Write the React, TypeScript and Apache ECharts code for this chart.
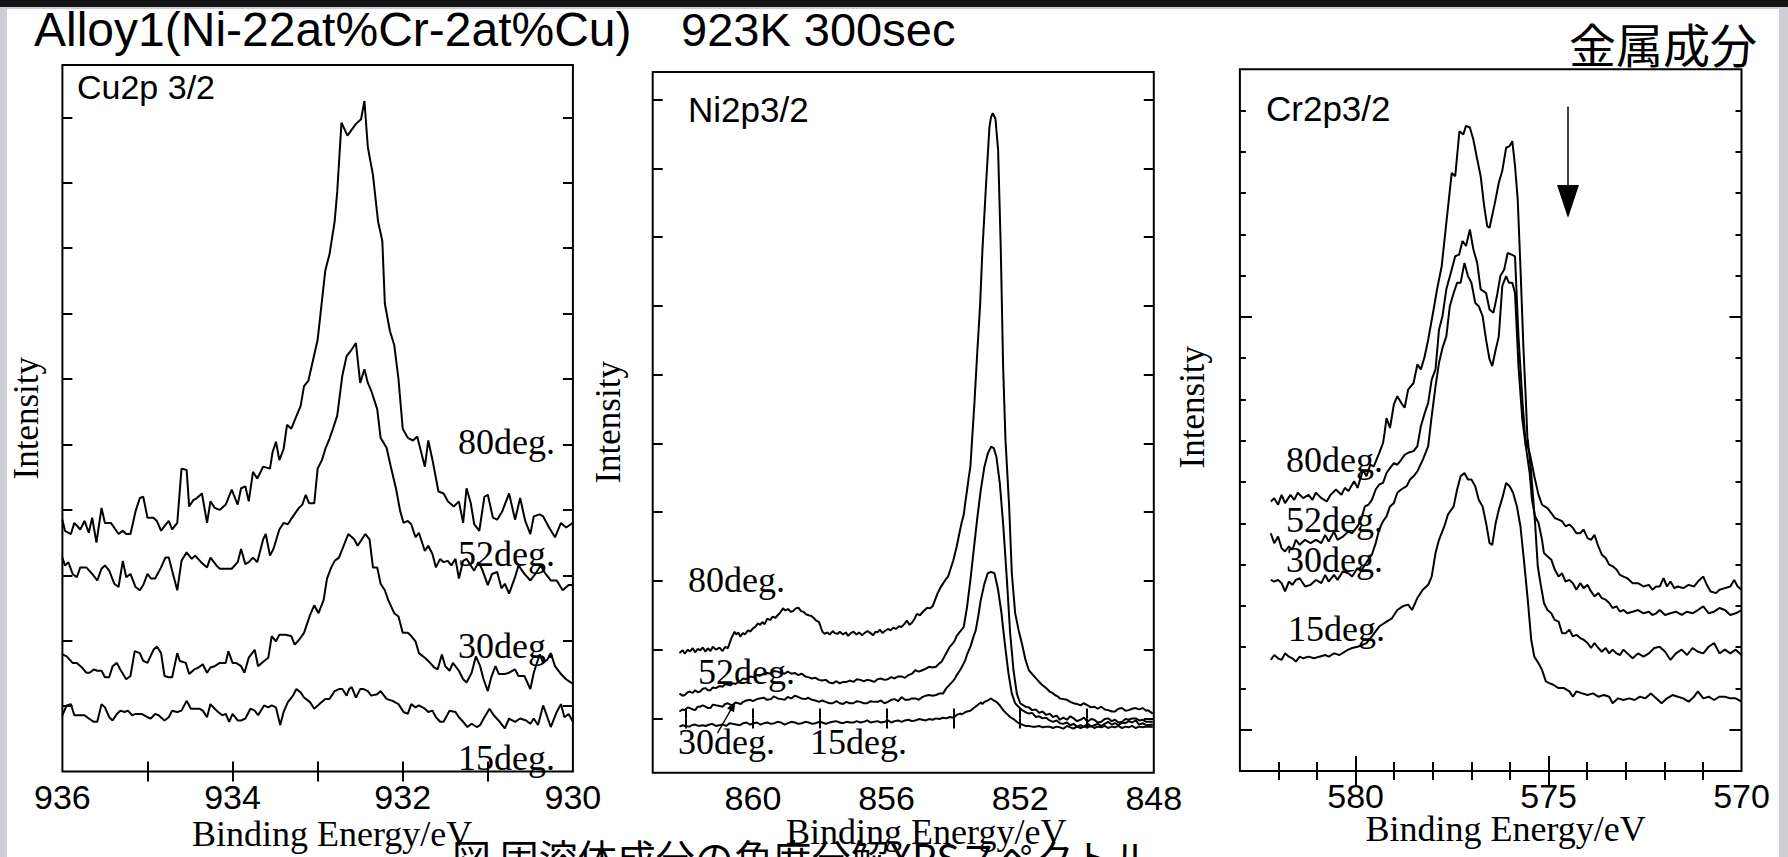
import React, { useEffect, useRef } from "react";
import * as echarts from "echarts";

// ---------- tick / label values ----------
const cuXLabels = [936, 934, 932, 930];
const cuXTicks = [935, 934, 933, 932, 931];
const cuYTicks = [1, 2, 3, 4, 5, 6, 7, 8, 9, 10];
const niXLabels = [860, 856, 852, 848];
const niXTicks = [862, 860, 858, 856, 854, 852, 850];
const niYTicks = [0, 1, 2, 3, 4, 5, 6, 7, 8, 9];
const crXLabels = [580, 575, 570];
const crXMinorTicks = [582, 581, 579, 578, 577, 576, 574, 573, 572, 571];
const crXMajorTicks = [580, 575];
const crYMinorTicks = [2, 3, 4, 5, 6, 7, 8, 9, 10, 12, 13, 14, 15, 16];
const crYMajorTicks = [1, 11];
const degreeNames = ["80deg.", "52deg.", "30deg.", "15deg."];

// ---------- Cu2p 3/2 spectra [binding energy eV, intensity] ----------
const cu80: number[][] = [[936.00,3.85],[935.97,3.68],[935.90,3.63],[935.86,3.80],[935.79,3.70],[935.74,3.83],[935.69,3.65],[935.65,3.88],[935.60,3.50],[935.54,4.03],[935.50,3.80],[935.43,3.80],[935.34,3.63],[935.29,3.68],[935.25,3.63],[935.20,3.63],[935.14,3.98],[935.09,4.18],[935.05,4.20],[935.00,3.88],[934.93,3.88],[934.89,3.83],[934.84,3.68],[934.80,3.75],[934.75,3.83],[934.71,3.70],[934.65,3.80],[934.60,4.63],[934.54,4.61],[934.51,4.05],[934.46,4.15],[934.42,4.18],[934.36,4.25],[934.30,3.80],[934.26,4.13],[934.21,4.03],[934.15,4.00],[934.08,4.08],[934.01,4.31],[933.94,4.08],[933.90,4.33],[933.85,4.36],[933.81,4.13],[933.76,4.58],[933.71,4.48],[933.64,4.66],[933.56,4.63],[933.53,4.88],[933.49,5.04],[933.45,4.76],[933.40,4.93],[933.36,5.30],[933.31,5.24],[933.20,5.59],[933.16,5.89],[933.11,5.97],[933.00,6.60],[932.91,7.66],[932.86,7.91],[932.80,8.41],[932.77,8.86],[932.72,9.92],[932.65,9.72],[932.55,9.90],[932.49,9.97],[932.45,10.25],[932.41,9.54],[932.35,9.12],[932.29,8.41],[932.24,8.11],[932.21,7.15],[932.15,6.73],[932.10,6.52],[932.05,6.00],[932.00,5.24],[931.94,5.10],[931.88,5.06],[931.83,5.12],[931.74,4.66],[931.70,5.06],[931.65,4.76],[931.58,4.28],[931.52,4.25],[931.47,4.13],[931.40,4.05],[931.34,4.13],[931.29,3.80],[931.25,4.33],[931.20,4.10],[931.16,3.78],[931.10,3.68],[931.04,4.20],[931.00,4.23],[930.94,3.88],[930.89,3.85],[930.83,3.98],[930.75,4.25],[930.68,3.85],[930.62,4.18],[930.56,3.83],[930.50,3.63],[930.46,3.90],[930.39,3.93],[930.35,3.90],[930.28,3.73],[930.21,3.58],[930.14,3.80],[930.08,3.73],[930.00,3.80]];
const cu52: number[][] = [[936.00,3.27],[935.97,3.15],[935.93,3.20],[935.88,3.02],[935.83,2.97],[935.79,3.12],[935.72,3.12],[935.65,3.02],[935.59,2.92],[935.54,3.10],[935.50,3.15],[935.45,3.07],[935.39,2.87],[935.34,2.82],[935.29,3.22],[935.25,2.97],[935.20,3.02],[935.14,2.82],[935.09,2.77],[935.05,2.85],[935.00,3.02],[934.96,2.95],[934.91,2.95],[934.84,3.12],[934.79,3.27],[934.75,3.27],[934.71,3.07],[934.65,2.77],[934.60,3.22],[934.54,3.35],[934.48,3.25],[934.44,3.30],[934.37,3.20],[934.30,3.12],[934.26,3.27],[934.19,3.15],[934.15,3.10],[934.08,3.10],[934.01,3.10],[933.94,3.20],[933.90,3.40],[933.85,3.17],[933.81,3.20],[933.76,3.27],[933.71,3.20],[933.64,3.55],[933.61,3.63],[933.56,3.30],[933.52,3.40],[933.45,3.70],[933.40,3.80],[933.35,3.78],[933.29,3.90],[933.22,4.03],[933.18,4.08],[933.14,4.23],[933.10,4.10],[933.04,4.10],[933.00,4.63],[932.95,4.76],[932.91,4.93],[932.86,5.09],[932.82,5.24],[932.77,5.44],[932.71,6.05],[932.66,6.35],[932.60,6.45],[932.55,6.55],[932.50,5.94],[932.45,6.15],[932.41,5.94],[932.37,5.82],[932.30,5.54],[932.26,5.10],[932.19,4.95],[932.14,4.66],[932.08,4.33],[932.03,3.98],[931.99,3.80],[931.94,3.83],[931.90,3.78],[931.85,3.58],[931.81,3.65],[931.74,3.37],[931.70,3.45],[931.65,3.32],[931.61,3.12],[931.56,3.25],[931.52,3.20],[931.47,3.22],[931.43,3.15],[931.38,3.25],[931.34,2.95],[931.29,3.22],[931.25,3.25],[931.20,3.15],[931.16,3.07],[931.11,3.20],[931.07,3.10],[931.00,2.85],[930.95,3.02],[930.89,3.05],[930.84,2.80],[930.80,2.87],[930.75,2.72],[930.68,2.97],[930.64,3.15],[930.57,3.02],[930.50,2.92],[930.44,3.02],[930.38,3.15],[930.32,3.02],[930.26,2.92],[930.19,2.92],[930.12,2.77],[930.05,2.85],[930.00,2.85]];
const cu30: number[][] = [[936.00,1.79],[935.95,1.76],[935.88,1.66],[935.83,1.66],[935.77,1.59],[935.72,1.51],[935.68,1.51],[935.63,1.56],[935.59,1.54],[935.54,1.54],[935.50,1.44],[935.45,1.44],[935.41,1.61],[935.36,1.66],[935.32,1.56],[935.25,1.41],[935.20,1.46],[935.15,1.84],[935.09,1.81],[935.05,1.69],[935.00,1.66],[934.93,1.86],[934.89,1.91],[934.84,1.81],[934.80,1.46],[934.75,1.44],[934.71,1.44],[934.65,1.81],[934.62,1.69],[934.55,1.66],[934.51,1.49],[934.45,1.56],[934.40,1.59],[934.35,1.64],[934.30,1.51],[934.26,1.59],[934.21,1.61],[934.15,1.66],[934.08,1.66],[934.05,1.84],[934.00,1.66],[933.96,1.66],[933.90,1.61],[933.86,1.51],[933.81,1.74],[933.74,1.86],[933.70,1.61],[933.63,1.69],[933.58,1.74],[933.54,2.07],[933.49,1.99],[933.45,2.09],[933.38,2.09],[933.31,2.07],[933.27,1.94],[933.22,2.01],[933.16,2.12],[933.09,2.39],[933.04,2.54],[932.99,2.42],[932.93,2.62],[932.89,2.95],[932.84,3.12],[932.80,3.22],[932.75,3.27],[932.71,3.40],[932.64,3.63],[932.57,3.55],[932.53,3.45],[932.48,3.55],[932.44,3.63],[932.39,3.55],[932.35,3.12],[932.30,3.12],[932.26,2.87],[932.21,2.77],[932.17,2.62],[932.10,2.42],[932.05,2.37],[932.00,2.12],[931.94,2.12],[931.90,2.07],[931.85,1.99],[931.81,1.81],[931.74,1.74],[931.70,1.69],[931.63,1.59],[931.59,1.56],[931.54,1.79],[931.50,1.61],[931.45,1.54],[931.41,1.66],[931.34,1.54],[931.29,1.41],[931.25,1.36],[931.19,1.51],[931.14,1.76],[931.09,1.61],[931.05,1.41],[931.00,1.23],[930.96,1.44],[930.91,1.61],[930.87,1.49],[930.80,1.49],[930.75,1.51],[930.68,1.56],[930.64,1.46],[930.57,1.46],[930.50,1.26],[930.46,1.51],[930.39,1.79],[930.35,1.66],[930.30,1.71],[930.26,1.81],[930.21,1.61],[930.14,1.49],[930.08,1.41],[930.00,1.34]];
const cu15: number[][] = [[936.00,0.86],[935.95,1.01],[935.90,1.03],[935.86,0.86],[935.79,0.86],[935.74,0.86],[935.69,0.81],[935.63,0.76],[935.59,0.76],[935.54,1.03],[935.50,0.98],[935.45,0.83],[935.41,0.78],[935.36,0.88],[935.32,0.93],[935.27,0.91],[935.23,0.93],[935.18,0.86],[935.14,0.88],[935.07,0.88],[935.00,0.83],[934.96,0.81],[934.91,0.88],[934.87,0.86],[934.80,0.78],[934.75,0.83],[934.71,0.93],[934.65,0.91],[934.60,0.93],[934.54,1.08],[934.49,0.96],[934.44,0.96],[934.39,0.96],[934.35,0.93],[934.30,0.83],[934.26,1.03],[934.21,0.96],[934.17,0.91],[934.12,0.86],[934.08,0.88],[934.04,0.76],[934.00,0.88],[933.94,0.78],[933.90,0.78],[933.85,0.81],[933.79,0.96],[933.74,0.93],[933.70,0.86],[933.63,1.01],[933.58,0.98],[933.54,1.01],[933.49,0.98],[933.44,0.71],[933.40,0.91],[933.35,1.06],[933.29,1.16],[933.25,1.26],[933.20,1.21],[933.16,1.13],[933.09,1.06],[933.04,0.96],[932.98,1.03],[932.91,1.11],[932.86,1.11],[932.80,1.23],[932.75,1.26],[932.71,1.26],[932.66,1.16],[932.63,1.26],[932.60,1.29],[932.55,1.13],[932.50,1.26],[932.46,1.26],[932.41,1.23],[932.37,1.16],[932.30,1.18],[932.26,1.23],[932.19,1.11],[932.12,1.08],[932.05,1.03],[931.99,0.91],[931.94,0.88],[931.90,1.03],[931.85,0.98],[931.81,1.01],[931.74,0.96],[931.70,0.91],[931.65,0.93],[931.61,0.83],[931.56,0.76],[931.52,0.76],[931.45,0.93],[931.38,0.91],[931.34,0.83],[931.29,0.76],[931.24,0.68],[931.19,0.73],[931.13,0.68],[931.09,0.71],[931.04,0.83],[930.98,0.96],[930.93,0.86],[930.86,0.76],[930.80,0.66],[930.75,0.81],[930.68,0.76],[930.62,0.81],[930.55,0.78],[930.50,0.73],[930.46,0.81],[930.41,0.71],[930.35,1.01],[930.30,0.83],[930.26,0.68],[930.19,0.91],[930.14,1.03],[930.10,0.83],[930.05,0.88],[930.00,0.76]];

// ---------- Ni2p3/2 spectra ----------
const ni80: number[][] = [[862.20,0.95],[862.10,0.99],[862.04,0.94],[861.95,1.00],[861.89,0.97],[861.80,1.02],[861.73,0.96],[861.65,1.01],[861.58,0.99],[861.50,1.03],[861.42,0.97],[861.35,1.02],[861.27,0.98],[861.20,1.04],[861.11,1.00],[861.00,1.03],[860.91,0.98],[860.83,1.04],[860.75,1.02],[860.65,1.16],[860.55,1.26],[860.50,1.22],[860.44,1.25],[860.38,1.19],[860.30,1.24],[860.24,1.22],[860.15,1.28],[860.08,1.26],[860.00,1.31],[859.93,1.33],[859.85,1.38],[859.78,1.36],[859.72,1.40],[859.65,1.37],[859.57,1.45],[859.48,1.43],[859.41,1.48],[859.33,1.46],[859.26,1.50],[859.18,1.54],[859.10,1.60],[859.03,1.57],[858.95,1.59],[858.87,1.55],[858.80,1.56],[858.72,1.60],[858.64,1.61],[858.56,1.56],[858.49,1.55],[858.40,1.51],[858.33,1.50],[858.25,1.49],[858.18,1.46],[858.10,1.42],[858.02,1.40],[857.95,1.30],[857.92,1.26],[857.85,1.23],[857.77,1.25],[857.70,1.22],[857.61,1.27],[857.55,1.24],[857.46,1.23],[857.40,1.26],[857.30,1.22],[857.22,1.25],[857.15,1.20],[857.07,1.24],[856.99,1.26],[856.90,1.22],[856.82,1.25],[856.73,1.21],[856.66,1.24],[856.57,1.27],[856.48,1.24],[856.40,1.21],[856.33,1.26],[856.27,1.25],[856.20,1.29],[856.12,1.24],[856.05,1.27],[855.96,1.30],[855.88,1.28],[855.80,1.32],[855.72,1.30],[855.63,1.34],[855.55,1.33],[855.47,1.37],[855.39,1.42],[855.31,1.36],[855.24,1.39],[855.16,1.45],[855.09,1.52],[855.00,1.50],[854.93,1.54],[854.85,1.58],[854.78,1.61],[854.70,1.60],[854.62,1.63],[854.55,1.72],[854.47,1.82],[854.39,1.90],[854.31,1.96],[854.23,2.02],[854.16,2.06],[854.08,2.18],[854.00,2.30],[853.95,2.40],[853.90,2.50],[853.85,2.62],[853.80,2.74],[853.75,2.85],[853.69,2.96],[853.64,3.15],[853.59,3.32],[853.54,3.50],[853.49,3.66],[853.44,4.05],[853.37,4.58],[853.28,5.36],[853.20,6.01],[853.13,6.81],[853.02,7.78],[852.92,8.60],[852.87,8.75],[852.82,8.80],[852.74,8.72],[852.66,8.26],[852.58,6.81],[852.51,5.11],[852.44,4.05],[852.33,3.08],[852.25,2.11],[852.15,1.53],[852.05,1.29],[851.94,1.07],[851.84,0.85],[851.74,0.70],[851.58,0.61],[851.43,0.53],[851.35,0.49],[851.27,0.46],[851.20,0.43],[851.12,0.39],[851.03,0.37],[850.96,0.34],[850.88,0.32],[850.81,0.29],[850.70,0.28],[850.60,0.27],[850.50,0.24],[850.40,0.22],[850.30,0.21],[850.19,0.19],[850.10,0.22],[849.98,0.19],[849.88,0.16],[849.78,0.17],[849.68,0.14],[849.57,0.17],[849.47,0.13],[849.37,0.12],[849.26,0.10],[849.16,0.10],[849.06,0.14],[848.95,0.15],[848.85,0.11],[848.75,0.12],[848.65,0.14],[848.54,0.15],[848.44,0.13],[848.33,0.15],[848.23,0.11],[848.18,0.12],[848.03,0.07]];
const ni52: number[][] = [[862.20,0.36],[862.10,0.33],[862.04,0.34],[861.95,0.38],[861.89,0.39],[861.80,0.37],[861.73,0.41],[861.65,0.38],[861.58,0.39],[861.50,0.43],[861.42,0.44],[861.35,0.41],[861.27,0.41],[861.20,0.45],[861.11,0.44],[861.00,0.47],[860.91,0.46],[860.83,0.50],[860.75,0.49],[860.68,0.48],[860.60,0.51],[860.52,0.50],[860.44,0.53],[860.36,0.55],[860.29,0.58],[860.20,0.57],[860.08,0.61],[860.00,0.60],[859.88,0.63],[859.80,0.62],[859.67,0.65],[859.58,0.66],[859.46,0.65],[859.38,0.69],[859.26,0.68],[859.15,0.66],[859.05,0.65],[858.96,0.68],[858.85,0.65],[858.75,0.66],[858.64,0.63],[858.55,0.65],[858.43,0.61],[858.35,0.60],[858.23,0.58],[858.13,0.59],[858.02,0.56],[857.93,0.55],[857.82,0.56],[857.71,0.52],[857.61,0.51],[857.50,0.54],[857.40,0.51],[857.30,0.53],[857.20,0.53],[857.10,0.55],[856.99,0.53],[856.89,0.57],[856.79,0.56],[856.68,0.54],[856.58,0.56],[856.48,0.55],[856.37,0.53],[856.27,0.57],[856.17,0.58],[856.06,0.56],[855.96,0.57],[855.86,0.60],[855.76,0.58],[855.65,0.61],[855.55,0.61],[855.45,0.59],[855.34,0.63],[855.24,0.65],[855.14,0.70],[855.03,0.68],[854.93,0.70],[854.83,0.72],[854.73,0.75],[854.62,0.74],[854.52,0.75],[854.42,0.80],[854.36,0.82],[854.31,0.86],[854.21,0.95],[854.11,1.04],[854.00,1.10],[853.95,1.14],[853.90,1.20],[853.80,1.26],[853.69,1.33],[853.59,1.62],[853.49,2.01],[853.39,2.45],[853.28,2.93],[853.18,3.32],[853.07,3.66],[852.97,3.85],[852.87,3.95],[852.79,3.93],[852.71,3.80],[852.61,3.42],[852.51,2.83],[852.41,2.11],[852.30,1.24],[852.20,0.70],[852.10,0.36],[852.00,0.22],[851.94,0.20],[851.84,0.17],[851.74,0.16],[851.64,0.12],[851.53,0.13],[851.43,0.08],[851.33,0.10],[851.22,0.05],[851.12,0.07],[851.02,0.02],[850.91,0.04],[850.81,-0.02],[850.71,0.01],[850.60,-0.02],[850.50,0.03],[850.40,0.00],[850.30,-0.04],[850.19,-0.02],[850.09,0.01],[849.98,-0.05],[849.88,-0.01],[849.78,-0.02],[849.68,-0.06],[849.57,-0.05],[849.47,-0.01],[849.37,0.00],[849.26,-0.04],[849.16,-0.02],[849.06,-0.06],[848.95,-0.05],[848.85,-0.01],[848.75,-0.02],[848.65,0.00],[848.54,0.00],[848.44,-0.03],[848.33,-0.02],[848.23,-0.05],[848.03,-0.05]];
const ni30: number[][] = [[862.20,0.10],[862.10,0.13],[862.04,0.12],[861.95,0.16],[861.89,0.15],[861.80,0.13],[861.73,0.12],[861.65,0.17],[861.58,0.17],[861.50,0.19],[861.42,0.17],[861.35,0.15],[861.27,0.15],[861.20,0.20],[861.11,0.19],[861.00,0.18],[860.91,0.17],[860.83,0.21],[860.75,0.22],[860.68,0.20],[860.60,0.19],[860.52,0.23],[860.44,0.22],[860.36,0.21],[860.29,0.24],[860.20,0.26],[860.08,0.27],[860.00,0.25],[859.88,0.28],[859.80,0.29],[859.67,0.30],[859.58,0.27],[859.46,0.28],[859.38,0.32],[859.26,0.29],[859.15,0.28],[859.05,0.27],[858.96,0.31],[858.85,0.29],[858.75,0.33],[858.64,0.31],[858.55,0.29],[858.43,0.28],[858.35,0.30],[858.23,0.27],[858.13,0.26],[858.02,0.24],[857.93,0.26],[857.82,0.24],[857.71,0.22],[857.61,0.22],[857.50,0.25],[857.40,0.22],[857.30,0.21],[857.20,0.24],[857.10,0.22],[856.99,0.22],[856.89,0.25],[856.79,0.24],[856.68,0.22],[856.58,0.22],[856.48,0.25],[856.37,0.24],[856.27,0.24],[856.17,0.26],[856.06,0.22],[855.96,0.24],[855.86,0.27],[855.76,0.28],[855.65,0.25],[855.55,0.31],[855.45,0.27],[855.34,0.27],[855.24,0.29],[855.14,0.29],[855.03,0.27],[854.93,0.31],[854.83,0.33],[854.73,0.34],[854.62,0.33],[854.52,0.34],[854.42,0.36],[854.31,0.36],[854.21,0.44],[854.11,0.49],[854.00,0.55],[853.95,0.58],[853.90,0.63],[853.80,0.70],[853.69,0.80],[853.64,0.85],[853.59,0.93],[853.49,1.04],[853.39,1.20],[853.33,1.28],[853.25,1.50],[853.18,1.72],[853.07,1.96],[852.97,2.11],[852.87,2.13],[852.77,2.11],[852.66,1.87],[852.56,1.53],[852.46,1.09],[852.35,0.65],[852.25,0.36],[852.15,0.22],[852.05,0.17],[851.94,0.12],[851.84,0.09],[851.74,0.07],[851.64,0.08],[851.53,0.02],[851.43,0.03],[851.33,0.00],[851.22,0.01],[851.12,-0.03],[851.02,-0.05],[850.91,-0.03],[850.81,-0.07],[850.71,-0.08],[850.60,-0.06],[850.50,-0.10],[850.40,-0.08],[850.30,-0.12],[850.19,-0.10],[850.09,-0.12],[849.98,-0.08],[849.88,-0.12],[849.78,-0.10],[849.68,-0.08],[849.57,-0.11],[849.47,-0.08],[849.37,-0.05],[849.26,-0.09],[849.16,-0.07],[849.06,-0.10],[848.95,-0.06],[848.85,-0.07],[848.75,-0.04],[848.65,-0.06],[848.54,-0.03],[848.44,-0.09],[848.33,-0.07],[848.23,-0.10],[848.03,-0.09]];
const ni15: number[][] = [[862.20,-0.12],[862.10,-0.10],[862.04,-0.11],[861.90,-0.12],[861.83,-0.10],[861.73,-0.09],[861.63,-0.11],[861.50,-0.10],[861.42,-0.11],[861.30,-0.09],[861.22,-0.08],[861.11,-0.11],[861.01,-0.10],[860.90,-0.09],[860.80,-0.11],[860.70,-0.07],[860.60,-0.08],[860.50,-0.09],[860.39,-0.10],[860.29,-0.07],[860.19,-0.06],[860.08,-0.09],[859.98,-0.07],[859.88,-0.06],[859.77,-0.09],[859.67,-0.07],[859.57,-0.06],[859.46,-0.08],[859.36,-0.07],[859.26,-0.05],[859.16,-0.06],[859.05,-0.09],[858.95,-0.07],[858.85,-0.05],[858.74,-0.06],[858.64,-0.08],[858.54,-0.07],[858.43,-0.05],[858.33,-0.06],[858.23,-0.08],[858.13,-0.07],[858.02,-0.05],[857.92,-0.06],[857.82,-0.08],[857.71,-0.06],[857.61,-0.05],[857.51,-0.04],[857.40,-0.06],[857.30,-0.07],[857.20,-0.05],[857.09,-0.06],[856.99,-0.06],[856.89,-0.04],[856.79,-0.06],[856.68,-0.05],[856.58,-0.03],[856.48,-0.06],[856.37,-0.05],[856.27,-0.04],[856.17,-0.06],[856.06,-0.05],[855.96,-0.03],[855.86,-0.06],[855.76,-0.04],[855.65,-0.03],[855.55,-0.05],[855.45,-0.03],[855.34,-0.02],[855.24,-0.04],[855.14,-0.03],[855.03,-0.01],[854.93,-0.02],[854.83,-0.03],[854.73,-0.01],[854.62,-0.02],[854.52,0.00],[854.42,-0.01],[854.31,0.01],[854.21,0.00],[854.11,0.02],[854.00,0.01],[853.90,0.05],[853.80,0.07],[853.74,0.06],[853.64,0.09],[853.59,0.10],[853.49,0.11],[853.39,0.15],[853.28,0.19],[853.18,0.23],[853.13,0.21],[853.07,0.24],[852.97,0.26],[852.87,0.29],[852.82,0.27],[852.71,0.24],[852.61,0.19],[852.51,0.12],[852.41,0.07],[852.30,0.02],[852.20,-0.01],[852.10,-0.05],[852.00,-0.08],[851.94,-0.09],[851.84,-0.11],[851.74,-0.11],[851.64,-0.12],[851.53,-0.12],[851.43,-0.11],[851.33,-0.13],[851.22,-0.12],[851.12,-0.12],[851.02,-0.14],[850.91,-0.12],[850.81,-0.13],[850.71,-0.15],[850.60,-0.11],[850.50,-0.13],[850.40,-0.15],[850.30,-0.12],[850.19,-0.14],[850.09,-0.12],[849.98,-0.13],[849.88,-0.11],[849.78,-0.14],[849.68,-0.12],[849.57,-0.13],[849.47,-0.11],[849.37,-0.14],[849.26,-0.12],[849.16,-0.13],[849.06,-0.11],[848.95,-0.14],[848.85,-0.12],[848.75,-0.13],[848.65,-0.11],[848.54,-0.14],[848.44,-0.12],[848.33,-0.13],[848.23,-0.12],[848.03,-0.12]];

// ---------- Cr2p3/2 spectra ----------
const cr80: number[][] = [[582.20,6.53],[582.11,6.61],[582.01,6.45],[581.92,6.69],[581.83,6.49],[581.69,6.69],[581.59,6.57],[581.50,6.74],[581.36,6.61],[581.22,6.69],[581.12,6.57],[581.03,6.74],[580.89,6.61],[580.75,6.53],[580.65,6.69],[580.51,6.82],[580.37,6.69],[580.28,6.86],[580.19,6.78],[580.04,7.02],[579.95,6.86],[579.81,7.30],[579.72,7.14],[579.62,7.42],[579.53,7.38],[579.39,7.70],[579.29,7.95],[579.25,8.19],[579.20,8.55],[579.11,8.31],[579.01,8.88],[578.92,9.08],[578.82,8.92],[578.73,8.80],[578.64,9.24],[578.50,9.40],[578.40,9.85],[578.31,9.73],[578.21,10.05],[578.12,10.45],[577.98,11.18],[577.89,11.67],[577.77,12.23],[577.65,13.28],[577.51,14.49],[577.42,14.41],[577.31,15.50],[577.21,15.42],[577.14,15.63],[577.04,15.59],[576.95,15.30],[576.85,14.82],[576.76,14.41],[576.67,13.69],[576.59,13.20],[576.53,13.16],[576.39,13.77],[576.29,14.25],[576.20,14.54],[576.10,15.10],[576.01,15.14],[575.94,15.26],[575.87,14.66],[575.80,13.85],[575.73,12.23],[575.65,10.21],[575.59,9.00],[575.54,7.87],[575.47,7.62],[575.37,7.14],[575.26,6.69],[575.17,6.45],[575.03,6.37],[574.93,6.25],[574.84,6.13],[574.74,6.09],[574.65,6.05],[574.56,5.93],[574.46,5.97],[574.37,5.89],[574.28,5.76],[574.18,5.76],[574.09,5.85],[573.99,5.64],[573.90,5.60],[573.81,5.72],[573.71,5.44],[573.62,5.24],[573.52,5.16],[573.43,5.00],[573.34,4.96],[573.24,4.88],[573.15,4.75],[573.06,4.71],[572.96,4.67],[572.82,4.55],[572.68,4.55],[572.54,4.47],[572.40,4.51],[572.31,4.39],[572.21,4.47],[572.12,4.47],[572.02,4.67],[571.93,4.47],[571.84,4.59],[571.74,4.43],[571.65,4.47],[571.51,4.43],[571.37,4.51],[571.23,4.47],[571.13,4.59],[570.99,4.71],[570.90,4.51],[570.80,4.35],[570.66,4.31],[570.57,4.39],[570.43,4.43],[570.29,4.47],[570.19,4.63],[570.10,4.47],[570.00,4.39]];
const cr52: number[][] = [[582.20,5.76],[582.11,5.52],[582.01,5.68],[581.92,5.40],[581.83,5.32],[581.73,5.44],[581.64,5.36],[581.55,5.60],[581.45,5.48],[581.31,5.60],[581.17,5.52],[581.03,5.60],[580.89,5.52],[580.79,5.72],[580.70,5.56],[580.56,5.80],[580.47,5.60],[580.33,5.68],[580.19,5.80],[580.09,5.76],[579.95,5.93],[579.86,6.09],[579.76,6.41],[579.67,6.45],[579.58,6.57],[579.48,6.82],[579.39,6.94],[579.29,6.98],[579.20,7.22],[579.11,7.34],[579.01,7.46],[578.92,7.42],[578.82,7.54],[578.73,7.66],[578.64,7.71],[578.50,7.75],[578.40,7.87],[578.31,8.35],[578.21,8.67],[578.12,8.92],[578.03,9.48],[577.93,9.73],[577.84,10.69],[577.75,11.02],[577.65,11.67],[577.51,12.15],[577.42,12.47],[577.32,12.51],[577.23,12.84],[577.14,12.72],[577.04,13.12],[576.95,12.64],[576.85,12.31],[576.76,11.67],[576.62,11.58],[576.53,11.18],[576.43,11.10],[576.34,11.50],[576.25,11.99],[576.15,12.15],[576.06,12.55],[575.96,12.51],[575.87,12.47],[575.78,10.53],[575.68,9.00],[575.59,7.87],[575.49,7.22],[575.43,6.57],[575.35,6.17],[575.26,6.01],[575.17,5.60],[575.12,5.28],[575.03,5.20],[574.93,5.12],[574.84,4.88],[574.74,4.71],[574.65,4.79],[574.56,4.59],[574.46,4.63],[574.37,4.55],[574.28,4.39],[574.18,4.55],[574.09,4.43],[573.99,4.51],[573.90,4.35],[573.81,4.23],[573.71,4.31],[573.62,4.19],[573.52,4.15],[573.43,4.07],[573.34,3.95],[573.24,3.99],[573.15,3.86],[573.06,3.90],[572.96,3.82],[572.82,3.86],[572.68,3.90],[572.54,3.82],[572.40,3.86],[572.31,3.78],[572.21,3.82],[572.12,3.90],[571.98,3.78],[571.84,3.82],[571.70,3.86],[571.55,3.78],[571.41,3.86],[571.27,3.82],[571.13,3.90],[570.99,3.99],[570.85,3.82],[570.71,3.86],[570.57,3.95],[570.43,3.90],[570.29,3.78],[570.15,3.82],[570.00,3.90]];
const cr30: number[][] = [[582.20,4.63],[582.11,4.59],[582.01,4.63],[581.92,4.55],[581.83,4.35],[581.73,4.59],[581.64,4.51],[581.55,4.63],[581.45,4.67],[581.31,4.47],[581.17,4.51],[581.03,4.63],[580.89,4.55],[580.79,4.75],[580.70,4.59],[580.56,4.75],[580.47,4.63],[580.33,4.84],[580.19,4.79],[580.09,4.71],[579.95,4.92],[579.86,4.84],[579.76,5.00],[579.67,5.12],[579.58,5.24],[579.48,5.52],[579.39,5.85],[579.29,6.05],[579.20,6.17],[579.11,6.41],[579.01,6.49],[578.92,6.74],[578.82,6.82],[578.68,6.90],[578.59,7.06],[578.50,7.14],[578.40,7.26],[578.26,7.54],[578.12,7.87],[578.03,8.59],[577.93,9.32],[577.84,9.89],[577.75,10.25],[577.65,10.53],[577.56,11.26],[577.46,11.58],[577.37,11.83],[577.28,11.83],[577.18,12.31],[577.09,11.99],[577.00,11.83],[576.90,11.34],[576.81,11.26],[576.71,11.02],[576.62,10.45],[576.53,9.97],[576.46,9.81],[576.37,10.21],[576.29,10.53],[576.20,11.75],[576.10,11.99],[576.03,11.83],[575.94,11.83],[575.87,11.58],[575.78,9.81],[575.68,8.51],[575.59,7.87],[575.54,8.03],[575.45,7.22],[575.35,6.01],[575.28,4.96],[575.21,4.55],[575.12,4.07],[575.03,3.90],[574.93,3.82],[574.84,3.66],[574.74,3.62],[574.65,3.34],[574.56,3.34],[574.46,3.42],[574.37,3.26],[574.28,3.30],[574.18,3.22],[574.09,3.18],[573.99,3.10],[573.90,2.98],[573.81,3.10],[573.71,2.98],[573.62,2.89],[573.52,2.98],[573.43,2.85],[573.34,2.94],[573.24,2.85],[573.15,2.81],[573.06,2.94],[572.96,2.85],[572.82,2.73],[572.68,2.85],[572.54,2.77],[572.40,2.85],[572.26,2.98],[572.12,3.01],[571.98,2.89],[571.84,2.69],[571.70,2.85],[571.55,2.94],[571.41,2.81],[571.27,2.98],[571.13,2.89],[570.99,2.85],[570.85,3.01],[570.71,3.10],[570.57,2.85],[570.43,2.94],[570.29,2.85],[570.15,2.94],[570.00,2.81]];
const cr15: number[][] = [[582.20,2.69],[582.11,2.81],[582.01,2.73],[581.92,2.69],[581.83,2.85],[581.73,2.77],[581.64,2.73],[581.55,2.65],[581.45,2.77],[581.36,2.73],[581.22,2.77],[581.08,2.73],[580.94,2.77],[580.79,2.81],[580.70,2.77],[580.56,2.85],[580.42,2.81],[580.28,2.89],[580.19,2.94],[580.09,2.98],[579.95,3.01],[579.81,3.06],[579.72,3.10],[579.58,3.26],[579.39,3.50],[579.20,3.62],[579.06,3.70],[578.92,3.90],[578.78,3.99],[578.64,4.03],[578.54,3.90],[578.40,4.19],[578.26,4.39],[578.12,4.51],[578.03,4.71],[577.93,5.28],[577.84,5.60],[577.70,5.93],[577.61,6.21],[577.46,6.41],[577.37,6.82],[577.28,7.14],[577.18,7.22],[577.09,7.06],[577.00,7.06],[576.90,6.90],[576.81,6.57],[576.71,6.41],[576.62,6.01],[576.53,5.52],[576.46,5.48],[576.37,6.01],[576.29,6.33],[576.20,6.61],[576.10,6.98],[576.01,6.90],[575.92,6.74],[575.82,6.41],[575.73,5.93],[575.64,5.12],[575.54,4.15],[575.45,3.18],[575.37,2.77],[575.26,2.61],[575.17,2.45],[575.07,2.17],[574.98,2.13],[574.88,2.09],[574.74,2.01],[574.60,2.01],[574.46,1.93],[574.37,1.80],[574.28,1.93],[574.13,1.88],[573.99,1.84],[573.85,1.88],[573.71,1.80],[573.57,1.84],[573.43,1.80],[573.34,1.64],[573.20,1.76],[573.06,1.72],[572.91,1.76],[572.77,1.72],[572.63,1.80],[572.49,1.76],[572.35,1.88],[572.21,1.76],[572.07,1.64],[571.93,1.76],[571.79,1.84],[571.65,1.80],[571.51,1.76],[571.37,1.68],[571.23,1.80],[571.13,1.93],[570.99,1.76],[570.85,1.80],[570.71,1.72],[570.57,1.80],[570.43,1.80],[570.29,1.76],[570.15,1.76],[570.00,1.68]];

const SANS = '"Liberation Sans", Arial, Helvetica, sans-serif';
const SERIF = '"Liberation Serif", "Times New Roman", serif';
const CJK = '"Noto Sans CJK JP", "Noto Sans CJK SC", sans-serif';

function xAxisDef(gridIndex: number, position: string, min: number, max: number, ticks: number[], tickLen: number, labels: number[] | null, name?: string, nameGap?: number, namePadLeft?: number) {
  return {
    type: "value", gridIndex, position, min, max, inverse: true,
    axisLine: { show: false }, splitLine: { show: false },
    axisTick: { show: true, inside: true, length: tickLen, customValues: ticks, lineStyle: { color: "#000", width: 2 } },
    axisLabel: labels
      ? { show: true, customValues: labels, margin: 8, fontFamily: SANS, fontSize: 34, color: "#000" }
      : { show: false },
    name: name || "", nameLocation: "middle", nameGap: nameGap || 0, nameMoveOverlap: false,
    nameTextStyle: { fontFamily: SERIF, fontSize: 36, color: "#000", padding: [0, 0, 0, namePadLeft || 0] },
  };
}

function yAxisDef(gridIndex: number, position: string, min: number, max: number, ticks: number[], tickLen: number, name?: string, nameGap?: number, namePadLeft?: number) {
  return {
    type: "value", gridIndex, position, min, max,
    axisLine: { show: false }, splitLine: { show: false },
    axisTick: { show: true, inside: true, length: tickLen, customValues: ticks, lineStyle: { color: "#000", width: 2 } },
    axisLabel: { show: false },
    name: name || "", nameLocation: "middle", nameGap: nameGap || 0, nameMoveOverlap: false,
    nameTextStyle: { fontFamily: SERIF, fontSize: 35, color: "#000", padding: [0, 0, 0, namePadLeft || 0] },
  };
}

function txt(x: number, y: number, text: string, font: string, align = "left", vAlign = "middle") {
  return { type: "text", x, y, silent: true, z: 20, style: { text, font, fill: "#000", textAlign: align, textVerticalAlign: vAlign } };
}

export default function App() {
  const ref = useRef<HTMLDivElement>(null);
  useEffect(() => {
    if (!ref.current) return;
    const chart = echarts.init(ref.current, undefined, { renderer: "svg" });
    const line = (data: number[][], xi: number, yi: number, name: string) => ({
      type: "line", name, data, xAxisIndex: xi, yAxisIndex: yi, showSymbol: false, symbol: "none",
      silent: true, lineStyle: { color: "#000", width: 2 }, z: 5,
    });
    const gridBox = { show: true, borderColor: "#000", borderWidth: 2, backgroundColor: "transparent" };
    const option = {
      animation: false,
      grid: [
        { left: 62.4, top: 65, width: 510.5, height: 715, ...gridBox },
        { left: 652.7, top: 72, width: 501.1, height: 700.7, ...gridBox },
        { left: 1239.9, top: 69.3, width: 501.6, height: 701.7, ...gridBox },
        { left: 1239.9, top: 69.3, width: 501.6, height: 701.7, show: false },
      ],
      xAxis: [
        xAxisDef(0, "bottom", 930, 936, cuXTicks, 10, cuXLabels, "Binding Energy/eV", 44.5, 29),
        xAxisDef(0, "top", 930, 936, cuXTicks, 10, null),
        xAxisDef(1, "bottom", 848, 863, niXTicks, 10, niXLabels, "Binding Energy/eV", 41.5, 46),
        xAxisDef(1, "top", 848, 863, niXTicks, 10, null),
        xAxisDef(2, "bottom", 570, 583, crXMinorTicks, 9, crXLabels, "Binding Energy/eV", 40, 30),
        xAxisDef(2, "top", 570, 583, crXMinorTicks, 9, null),
        xAxisDef(3, "bottom", 570, 583, crXMajorTicks, 15, null),
        xAxisDef(3, "top", 570, 583, crXMajorTicks, 15, null),
      ],
      yAxis: [
        yAxisDef(0, "left", 0, 10.8, cuYTicks, 10, "Intensity", 18),
        yAxisDef(0, "right", 0, 10.8, cuYTicks, 10),
        yAxisDef(1, "left", -0.79, 9.4, niYTicks, 10, "Intensity", 27),
        yAxisDef(1, "right", -0.79, 9.4, niYTicks, 10),
        yAxisDef(2, "left", 0, 17, crYMinorTicks, 6, "Intensity", 30, 26),
        yAxisDef(2, "right", 0, 17, crYMinorTicks, 6),
        yAxisDef(3, "left", 0, 17, crYMajorTicks, 12),
        yAxisDef(3, "right", 0, 17, crYMajorTicks, 12),
      ],
      series: [
        line(cu80, 0, 0, "Cu " + degreeNames[0]),
        line(cu52, 0, 0, "Cu " + degreeNames[1]),
        line(cu30, 0, 0, "Cu " + degreeNames[2]),
        line(cu15, 0, 0, "Cu " + degreeNames[3]),
        line(ni80, 2, 2, "Ni " + degreeNames[0]),
        line(ni52, 2, 2, "Ni " + degreeNames[1]),
        line(ni30, 2, 2, "Ni " + degreeNames[2]),
        line(ni15, 2, 2, "Ni " + degreeNames[3]),
        line(cr80, 4, 4, "Cr " + degreeNames[0]),
        line(cr52, 4, 4, "Cr " + degreeNames[1]),
        line(cr30, 4, 4, "Cr " + degreeNames[2]),
        line(cr15, 4, 4, "Cr " + degreeNames[3]),
      ],
      graphic: [
        { type: "rect", z: -100, silent: true, shape: { x: 0, y: 0, width: 1788, height: 857 }, style: { fill: "#cdced3" } },
        { type: "rect", z: -99, silent: true, shape: { x: 7, y: 9, width: 1772, height: 848 }, style: { fill: "#ffffff" } },
        { type: "rect", z: -98, silent: true, shape: { x: 0, y: 0, width: 1788, height: 7 }, style: { fill: "#151515" } },
        txt(34, 29, "Alloy1(Ni-22at%Cr-2at%Cu)", `48px ${SANS}`),
        txt(681, 29, "923K 300sec", `47px ${SANS}`),
        txt(1757, 42, "金属成分", `47px ${CJK}`, "right"),
        txt(77, 87, "Cu2p 3/2", `34px ${SANS}`),
        txt(688, 109, "Ni2p3/2", `35px ${SANS}`),
        txt(1266, 108, "Cr2p3/2", `35px ${SANS}`),
        txt(555, 442, degreeNames[0], `36px ${SERIF}`, "right"),
        txt(555, 554, degreeNames[1], `36px ${SERIF}`, "right"),
        txt(555, 646, degreeNames[2], `36px ${SERIF}`, "right"),
        txt(555, 758, degreeNames[3], `36px ${SERIF}`, "right"),
        txt(688, 580, degreeNames[0], `36px ${SERIF}`),
        txt(698, 672, degreeNames[1], `36px ${SERIF}`),
        txt(678, 742, degreeNames[2], `36px ${SERIF}`),
        txt(810, 742, degreeNames[3], `36px ${SERIF}`),
        txt(1286, 460, degreeNames[0], `36px ${SERIF}`),
        txt(1286, 520, degreeNames[1], `36px ${SERIF}`),
        txt(1286, 560, degreeNames[2], `36px ${SERIF}`),
        txt(1288, 629, degreeNames[3], `36px ${SERIF}`),
        { type: "line", z: 20, silent: true, shape: { x1: 717.5, y1: 733, x2: 731, y2: 709.5 }, style: { stroke: "#000", lineWidth: 1.5 } },
        { type: "polygon", z: 20, silent: true, shape: { points: [[735.5, 701.5], [734.0, 712.2], [727.0, 708.2]] }, style: { fill: "#000" } },
        { type: "line", z: 20, silent: true, shape: { x1: 1568, y1: 106.5, x2: 1568, y2: 190 }, style: { stroke: "#000", lineWidth: 1.5 } },
        { type: "polygon", z: 20, silent: true, shape: { points: [[1557, 185], [1579, 185], [1568, 218]] }, style: { fill: "#000" } },
        txt(452, 836, "図 固溶体成分の角度分解XPSスペクトル", `39px ${CJK}`, "left", "top"),
      ],
    };
    chart.setOption(option as any);
    return () => chart.dispose();
  }, []);
  return <div ref={ref} style={{ position: "absolute", left: 0, top: 0, width: 1788, height: 857 }} />;
}
